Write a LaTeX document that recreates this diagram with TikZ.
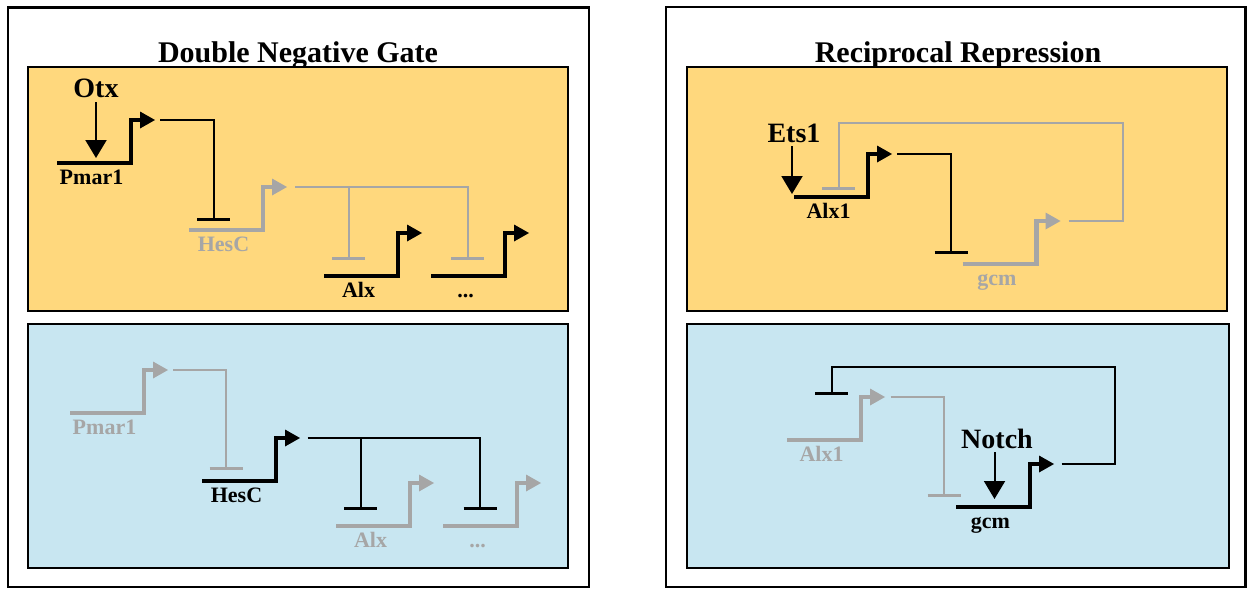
\documentclass[tikz,border=0pt]{standalone}
\usepackage{fontspec}
\setmainfont{Liberation Serif}
\usetikzlibrary{arrows.meta,calc}
\definecolor{orangefill}{RGB}{255,216,125}
\definecolor{bluefill}{RGB}{200,230,241}
\definecolor{offgray}{RGB}{166,166,166}
\tikzset{
  frame/.style={draw=black, line width=2.5pt},
  panel/.style={draw=black, line width=2.5pt},
  titletext/.style={font=\bfseries\fontsize{30}{32}\selectfont, anchor=base, inner sep=0pt},
  regtext/.style={font=\bfseries\fontsize{28}{30}\selectfont, anchor=base, inner sep=0pt},
  genetext/.style={font=\bfseries\fontsize{22}{24}\selectfont, anchor=base, inner sep=0pt},
  regline/.style={line width=2pt},
  repbar/.style={line width=3pt},
  activ/.style={line width=2pt, -{Triangle[width=21pt,length=18pt]}},
  pics/gene/.style 2 args={code={
    \draw[line width=4.5pt, draw=#1, line join=miter] (0,0) -- (74,0) -- (74,-43) -- (84,-43);
    \fill[#1] (83,-51.5) -- (98,-43) -- (83,-34.5) -- cycle;
    \node[genetext, text=#1] at (34.5,21) {#2};
    \coordinate (-tip) at (98,-43);
  }},
}
\begin{document}
\begin{tikzpicture}[x=1pt,y=-1pt]
\useasboundingbox (0,0) rectangle (1249,589);
% frames
\draw[frame] (8,7.5) rectangle (589,587);
\draw[frame] (666,7) rectangle (1245.5,587);
\node[titletext] (t1) at (298,62) {Double Negative Gate};
\node[titletext] (t2) at (958,62) {Reciprocal Repression};
% panels
\draw[panel, fill=orangefill] (28,67) rectangle (568,311);
\draw[panel, fill=bluefill] (28,324) rectangle (568,568);
\draw[panel, fill=orangefill] (687,67) rectangle (1227,311);
\draw[panel, fill=bluefill] (687,324) rectangle (1229,568);

% ===== Left top =====
\pic (lp) at (57,163) {gene={black}{Pmar1}};
\pic (lh) at (189,230) {gene={offgray}{HesC}};
\pic (la) at (324,276) {gene={black}{Alx}};
\pic (ld) at (431,276) {gene={black}{...}};
\node[regtext] (otx) at (96,97) {Otx};
\coordinate (otxend) at (96,158);
\draw[activ] ([yshift=-5pt]otx.south) -- (otxend);
\coordinate (b1) at (213.5,219);
\coordinate (b2) at (348.5,258);
\coordinate (b3) at (467.5,258);
\draw[regline] ([xshift=5pt]lp-tip) -| (b1);
\draw[repbar] ([xshift=-16.5pt]b1) -- ([xshift=16.5pt]b1);
\draw[regline, offgray] ([xshift=8pt]lh-tip) -| (b3);
\draw[regline, offgray] (b2 |- lh-tip) -- (b2);
\draw[repbar, offgray] ([xshift=-16.5pt]b2) -- ([xshift=16.5pt]b2);
\draw[repbar, offgray] ([xshift=-16.5pt]b3) -- ([xshift=16.5pt]b3);

% ===== Left bottom =====
\pic (mp) at (70,413) {gene={offgray}{Pmar1}};
\pic (mh) at (202,481) {gene={black}{HesC}};
\pic (ma) at (336,526) {gene={offgray}{Alx}};
\pic (md) at (443,526) {gene={offgray}{...}};
\coordinate (b4) at (226,468);
\coordinate (b5) at (360.5,508);
\coordinate (b6) at (480,508);
\draw[regline, offgray] ([xshift=5pt]mp-tip) -| (b4);
\draw[repbar, offgray] ([xshift=-16.5pt]b4) -- ([xshift=16.5pt]b4);
\draw[regline] ([xshift=7.5pt]mh-tip) -| (b6);
\draw[regline] (b5 |- mh-tip) -- (b5);
\draw[repbar] ([xshift=-16.5pt]b5) -- ([xshift=16.5pt]b5);
\draw[repbar] ([xshift=-16.5pt]b6) -- ([xshift=16.5pt]b6);

% ===== Right top =====
\pic (ra) at (794,197) {gene={black}{Alx1}};
\pic (rg) at (962.5,264) {gene={offgray}{gcm}};
\node[regtext] (ets) at (794,142) {Ets1};
\coordinate (etsend) at (792,194);
\draw[activ] ([xshift=-2pt,yshift=-4pt]ets.south) -- (etsend);
\coordinate (b7) at (951,252);
\coordinate (fbr) at (1123,123);
\coordinate (b8) at (838.5,188);
\draw[regline] ([xshift=5pt]ra-tip) -| (b7);
\draw[repbar] ([xshift=-16.5pt]b7) -- ([xshift=16.5pt]b7);
\draw[regline, offgray] ([xshift=8pt]rg-tip) -| (fbr) -| (b8);
\draw[repbar, offgray] ([xshift=-16.5pt]b8) -- ([xshift=16.5pt]b8);

% ===== Right bottom =====
\pic (sa) at (787,440) {gene={offgray}{Alx1}};
\pic (sg) at (956,507) {gene={black}{gcm}};
\node[regtext] (notch) at (997,448) {Notch};
\coordinate (notchend) at (994.5,499);
\draw[activ] ([xshift=-2.5pt,yshift=-4pt]notch.south) -- (notchend);
\coordinate (b9) at (944,495);
\coordinate (fbs) at (1115,367);
\coordinate (b10) at (831.5,393);
\draw[regline, offgray] ([xshift=5.5pt]sa-tip) -| (b9);
\draw[repbar, offgray] ([xshift=-16.5pt]b9) -- ([xshift=16.5pt]b9);
\draw[regline] ([xshift=7.5pt]sg-tip) -| (fbs) -| (b10);
\draw[repbar] ([xshift=-16.5pt]b10) -- ([xshift=16.5pt]b10);
\end{tikzpicture}
\end{document}
